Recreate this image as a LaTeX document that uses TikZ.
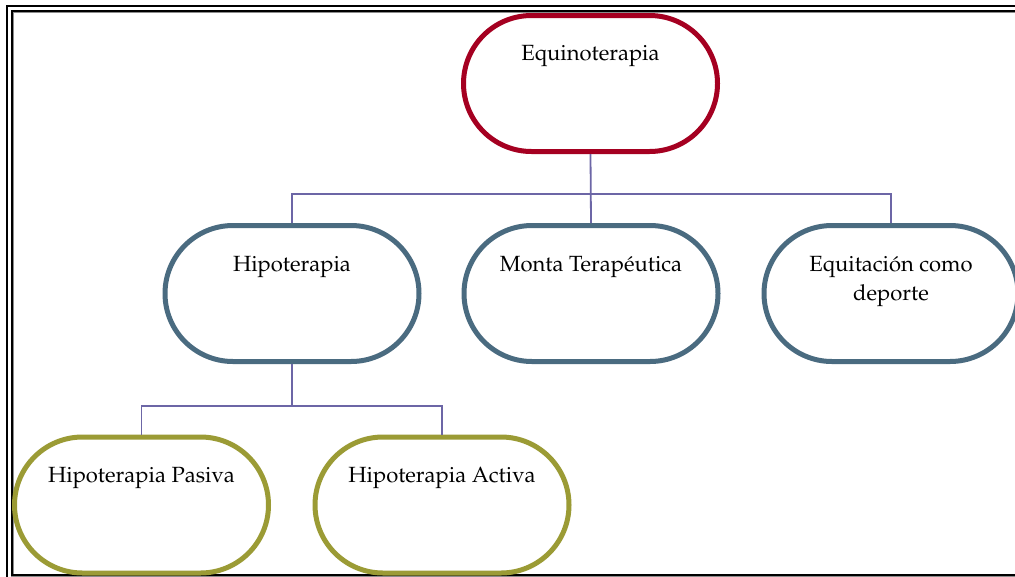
\documentclass[tikz,border=0pt]{standalone}
\usepackage[T1]{fontenc}
\usepackage{mathpazo}
\usepackage{tikz}
\definecolor{rootred}{HTML}{A50021}
\definecolor{midblue}{HTML}{4A6B80}
\definecolor{leafolive}{HTML}{9B9B35}
\definecolor{linkpurple}{HTML}{6C66A6}

\tikzset{
	stadium/.style={draw, line width=5pt, minimum width=254pt, minimum height=136pt,
		rounded corners=68pt, inner sep=0pt, fill=white},
	txt/.style={anchor=base, align=center, font=\fontsize{22}{29}\selectfont},
	link/.style={draw=linkpurple, line width=1.8pt}
}

\begin{document}
\begin{tikzpicture}[x=1pt, y=-1pt]
	\clip (0,0) rectangle (1015,576);
	\fill[white] (0,0) rectangle (1015,576);
	% double frame
	\draw[line width=2.6pt] (7,6) rectangle (1040,600);
	\draw[line width=2.4pt, black!45] (12.6,11.6) rectangle (1035,575.6);
	\draw[line width=1.8pt] (12,11) rectangle (1035,575);

	% boxes
	\node[stadium, draw=rootred] (equino) at (590.5,83.5) {};
	\node[stadium, draw=midblue] (hipo) at (292,293.5) {};
	\node[stadium, draw=midblue] (monta) at (591,293.5) {};
	\node[stadium, draw=midblue] (equit) at (891,293.5) {};
	\node[stadium, draw=leafolive] (pasiva) at (141.5,505) {};
	\node[stadium, draw=leafolive] (activa) at (442,505) {};

	% labels
	\node[txt] (equino-t) at ([yshift=-47pt]equino.north) {Equinoterapia};
	\node[txt] (hipo-t) at ([yshift=-48pt]hipo.north) {Hipoterapia};
	\node[txt] (monta-t) at ([yshift=-48pt]monta.north) {Monta Terap\'eutica};
	\node[txt] (equit-t) at ([yshift=-77pt]equit.north) {Equitaci\'on como\\deporte};
	\node[txt] (pasiva-t) at ([yshift=-48pt]pasiva.north) {Hipoterapia Pasiva};
	\node[txt] (activa-t) at ([yshift=-48pt]activa.north) {Hipoterapia Activa};

	% connectors
	\draw[link] (equino.south) -- ++(0,40) -| (hipo.north);
	\draw[link] (equino.south) -- ++(0,40) -| (equit.north);
	\draw[link] (equino.south) -- (monta.north);
	\draw[link] (hipo.south) -- ++(0,42) -| (pasiva.north);
	\draw[link] (hipo.south) -- ++(0,42) -| (activa.north);
\end{tikzpicture}
\end{document}
